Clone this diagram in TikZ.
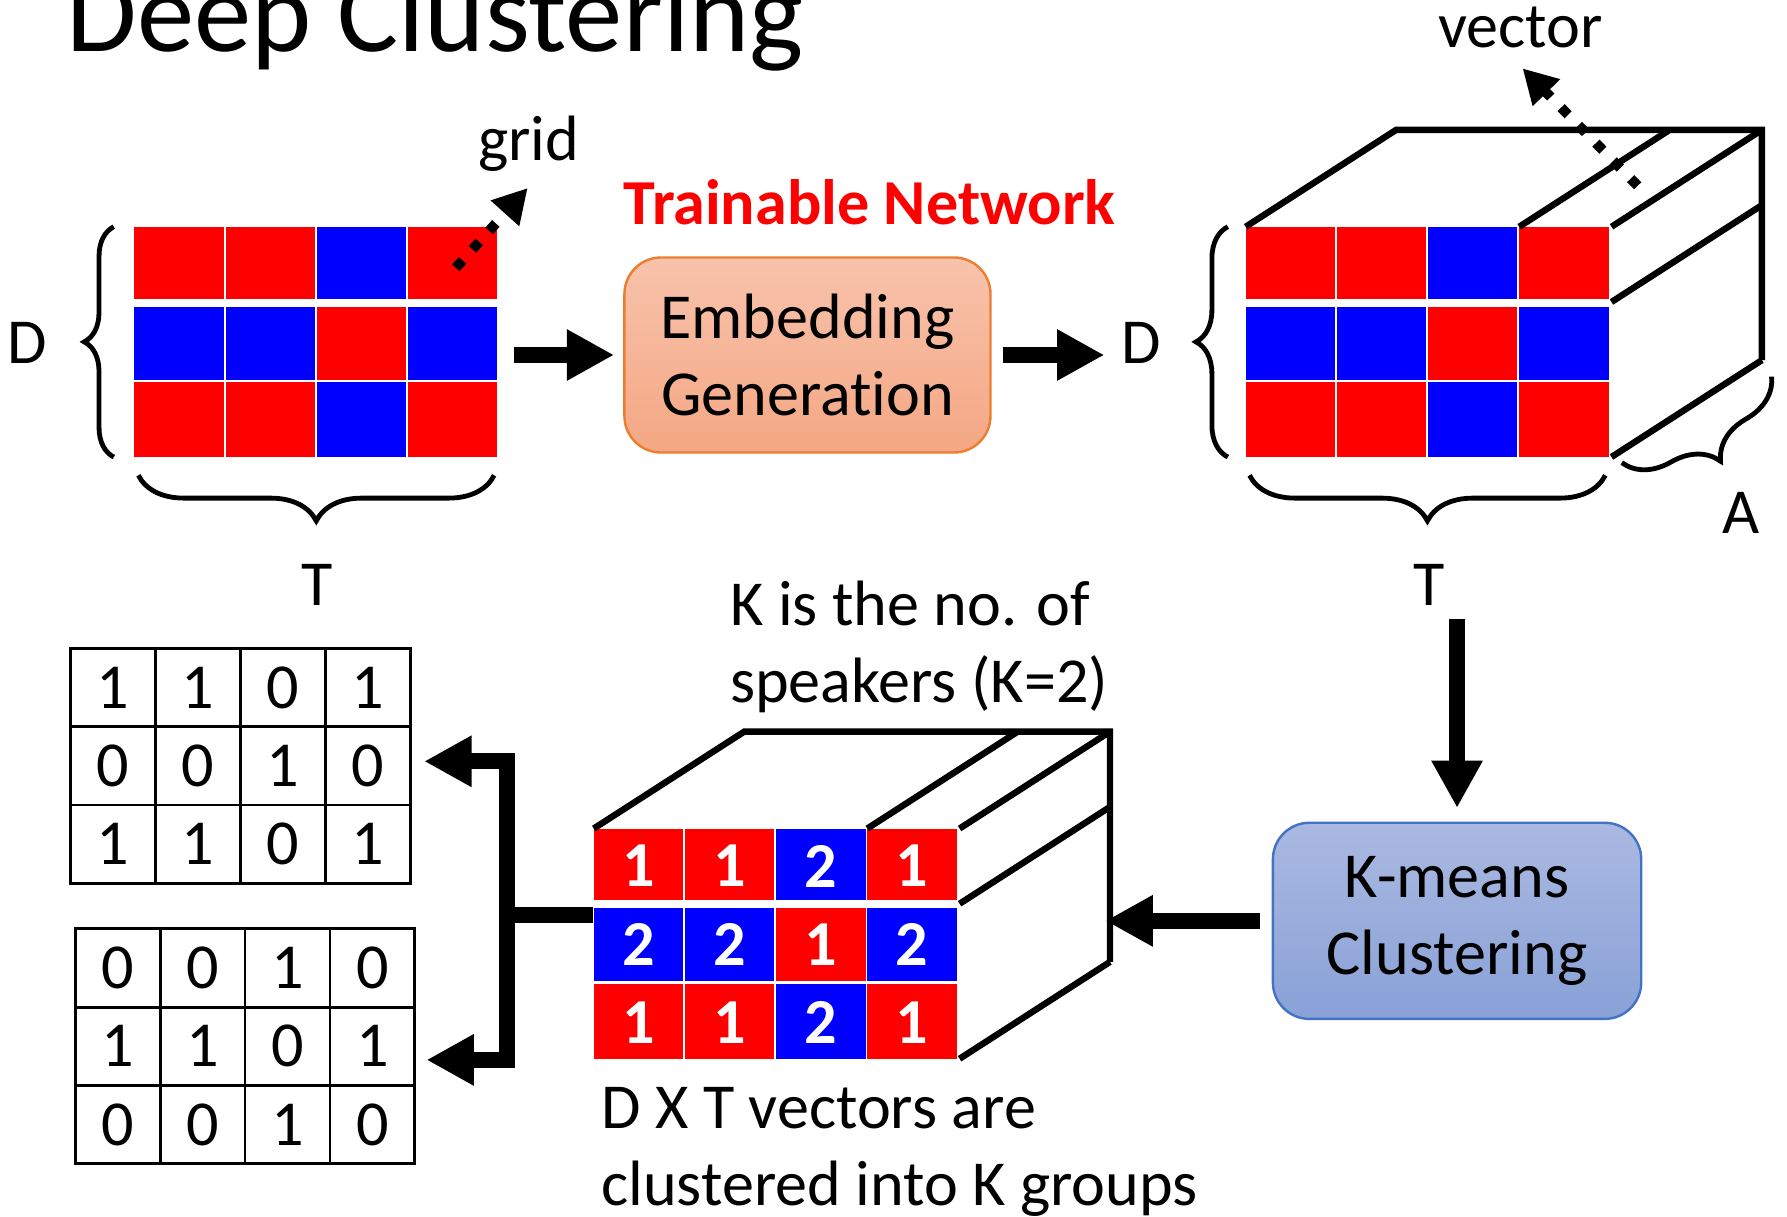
\documentclass[tikz,border=0pt]{standalone}
\usepackage{fontspec}
\setmainfont{Carlito}[Ligatures=NoCommon]
\usetikzlibrary{arrows.meta,decorations.pathreplacing}

\definecolor{embtop}{RGB}{248,195,172}
\definecolor{embbot}{RGB}{244,167,131}
\definecolor{embline}{RGB}{237,125,49}
\definecolor{kmtop}{RGB}{170,185,225}
\definecolor{kmbot}{RGB}{137,161,215}
\definecolor{kmline}{RGB}{68,114,196}

\tikzset{
	lbl/.style={inner sep=0pt,font=\fontsize{16}{19.2}\selectfont},
	numlbl/.style={inner sep=0pt,text=white,font=\fontsize{16}{19.2}\selectfont\bfseries},
	tabcell/.style={draw,line width=0.7pt,inner sep=0pt,minimum width=0.745cm,minimum height=0.6867cm,font=\fontsize{16}{19.2}\selectfont},
	gridbox/.style={inner sep=0pt,outer sep=0pt,minimum width=3.2cm,minimum height=2.02cm},
	box/.style={rounded corners=0.32cm,minimum width=3.21cm,minimum height=1.71cm,align=center,line width=0.6pt,font=\fontsize{16}{19.2}\selectfont},
	bigarrow/.style={line width=3.9pt,-{Triangle[length=11.8pt,width=12pt]}},
	dotarrow/.style={line width=2.5pt,dash pattern=on 2.5pt off 3.7pt,-{Triangle[length=8.5pt,width=9pt]}},
	edge3d/.style={line width=1.6pt},
	bracestyle/.style={decorate,decoration={brace,amplitude=#1},line width=1.2pt}
}

\begin{document}
\begin{tikzpicture}[x=0.01cm,y=-0.01cm]
	\useasboundingbox (0,0) rectangle (1568,1067);
	\node[lbl,anchor=base west,font=\fontsize{28.6}{34}\selectfont] (title) at (58,45) {Deep Clustering};

	% colour grids
	\node[gridbox] (gridL) at (277.5,300) {};
	\node[gridbox] (gridR) at (1252.5,300) {};
	\node[gridbox] (gridB) at (680.5,828) {};
	\foreach \gx/\gy in {118/199,1093/199,521/727}
		\foreach \ta/\tb/\cols in {0/63/{red,red,blue,red},70/134/{blue,blue,red,blue},136/202/{red,red,blue,red}}
			\foreach \c [count=\j from 0] in \cols
				\fill[\c] (\gx+80*\j,\gy+\ta) rectangle ++(78.5,\tb-\ta);
	\foreach \vals [count=\r from 0] in {{1,1,2,1},{2,2,1,2},{1,1,2,1}}
		\foreach \v [count=\j from 0] in \vals
			\node[numlbl] (num-\r-\j) at (560.25+80*\j,760+68.75*\r) {\v};

	% cube edges
	\foreach \cx/\cy in {1093/199,521/727} {
		\draw[edge3d] (\cx,\cy) -- ++(132,-85) -- ++(321,0) -- ++(0,202);
		\foreach \ex/\ey in {240/0,321/0,321/66,321/202}
			\draw[edge3d] (\cx+\ex,\cy+\ey) -- ++(132,-85);
	}

	% braces
	\draw[bracestyle=0.26cm] ([xshift=-0.175cm]gridL.south west) -- ([xshift=-0.175cm]gridL.north west);
	\draw[bracestyle=0.4cm] ([xshift=-0.04cm,yshift=-0.16cm]gridL.south east) -- ([xshift=0.04cm,yshift=-0.16cm]gridL.south west);
	\draw[bracestyle=0.28cm] ([xshift=-0.15cm]gridR.south west) -- ([xshift=-0.15cm]gridR.north west);
	\draw[bracestyle=0.4cm] ([xshift=-0.04cm,yshift=-0.16cm]gridR.south east) -- ([xshift=0.04cm,yshift=-0.16cm]gridR.south west);
	\coordinate (depthA) at (1554.5,330.5);
	\coordinate (depthB) at (1423,406);
	\draw[bracestyle=0.42cm] (depthA) -- (depthB);

	% labels
	\node[lbl,anchor=base west] (grid) at (419,141) {grid};
	\node[lbl,anchor=base,text=red,font=\fontsize{16}{19.2}\selectfont\bfseries] (train) at (763,197) {Trainable Network};
	\node[lbl,anchor=base] (vector) at (1334,42) {vector};
	\node[lbl] (DL) at (24,301) {D};
	\node[lbl] (DR) at (1001,301) {D};
	\node[lbl] (TL) at (278,513) {T};
	\node[lbl] (TR) at (1254,513) {T};
	\node[lbl] (A) at (1528,450) {A};
	\node[lbl,anchor=base west,align=left] (ktext) at (640,616) {K is the no. of\\speakers (K=2)};
	\node[lbl,anchor=base west,align=left] (dxt) at (527,1058) {D X T vectors are\\clustered into K groups};

	% boxes
	\node[box,top color=embtop,bottom color=embbot,draw=embline] (embed) at (708.5,311.5) {Embedding\\Generation};
	\node[box,minimum width=3.23cm,minimum height=1.72cm,top color=kmtop,bottom color=kmbot,draw=kmline] (kmeans) at (1278.5,808) {K-means\\Clustering};

	% output masks
	\foreach \tx/\ty/\tn/\rows in {62/569/T1/{{1,1,0,1},{0,0,1,0},{1,1,0,1}},66/815/T2/{{0,0,1,0},{1,1,0,1},{0,0,1,0}}}
		\foreach \vals [count=\r from 0] in \rows
			\foreach \v [count=\j from 0] in \vals
				\node[tabcell] (\tn-\r-\j) at (\tx+37.25+74.5*\j,\ty+34.33+68.67*\r) {\v};

	% dotted pointers
	\coordinate (gridtail) at (400,235);
	\coordinate (gridtip) at (463,165);
	\draw[dotarrow] (gridtail) -- (gridtip);
	\coordinate (vectail) at (1437,163);
	\coordinate (vectip) at (1336,60);
	\draw[dotarrow] (vectail) -- (vectip);

	% flow arrows
	\draw[bigarrow,shorten <=0.13cm,shorten >=0.08cm] (gridL.east |- embed.west) -- (embed.west);
	\draw[bigarrow,shorten <=0.1cm,shorten >=0.14cm] (embed.east) -- (embed.east -| DR.west);
	\draw[bigarrow,shorten <=0.11cm,shorten >=0.12cm] (kmeans.north |- TR.south) -- (kmeans.north);
	\coordinate (cubeB-side) at (974,808);
	\draw[bigarrow,shorten <=0.1cm,shorten >=-0.04cm] (kmeans.west) -- (cubeB-side);
	\coordinate (split) at (445,803);
	\draw[bigarrow,shorten >=0.11cm] (gridB.west |- split) -- (split) |- ([yshift=0.04cm]T1-1-3.east);
	\draw[bigarrow,shorten >=0.09cm] (split) |- ([yshift=-0.12cm]T2-1-3.east);
\end{tikzpicture}
\end{document}
